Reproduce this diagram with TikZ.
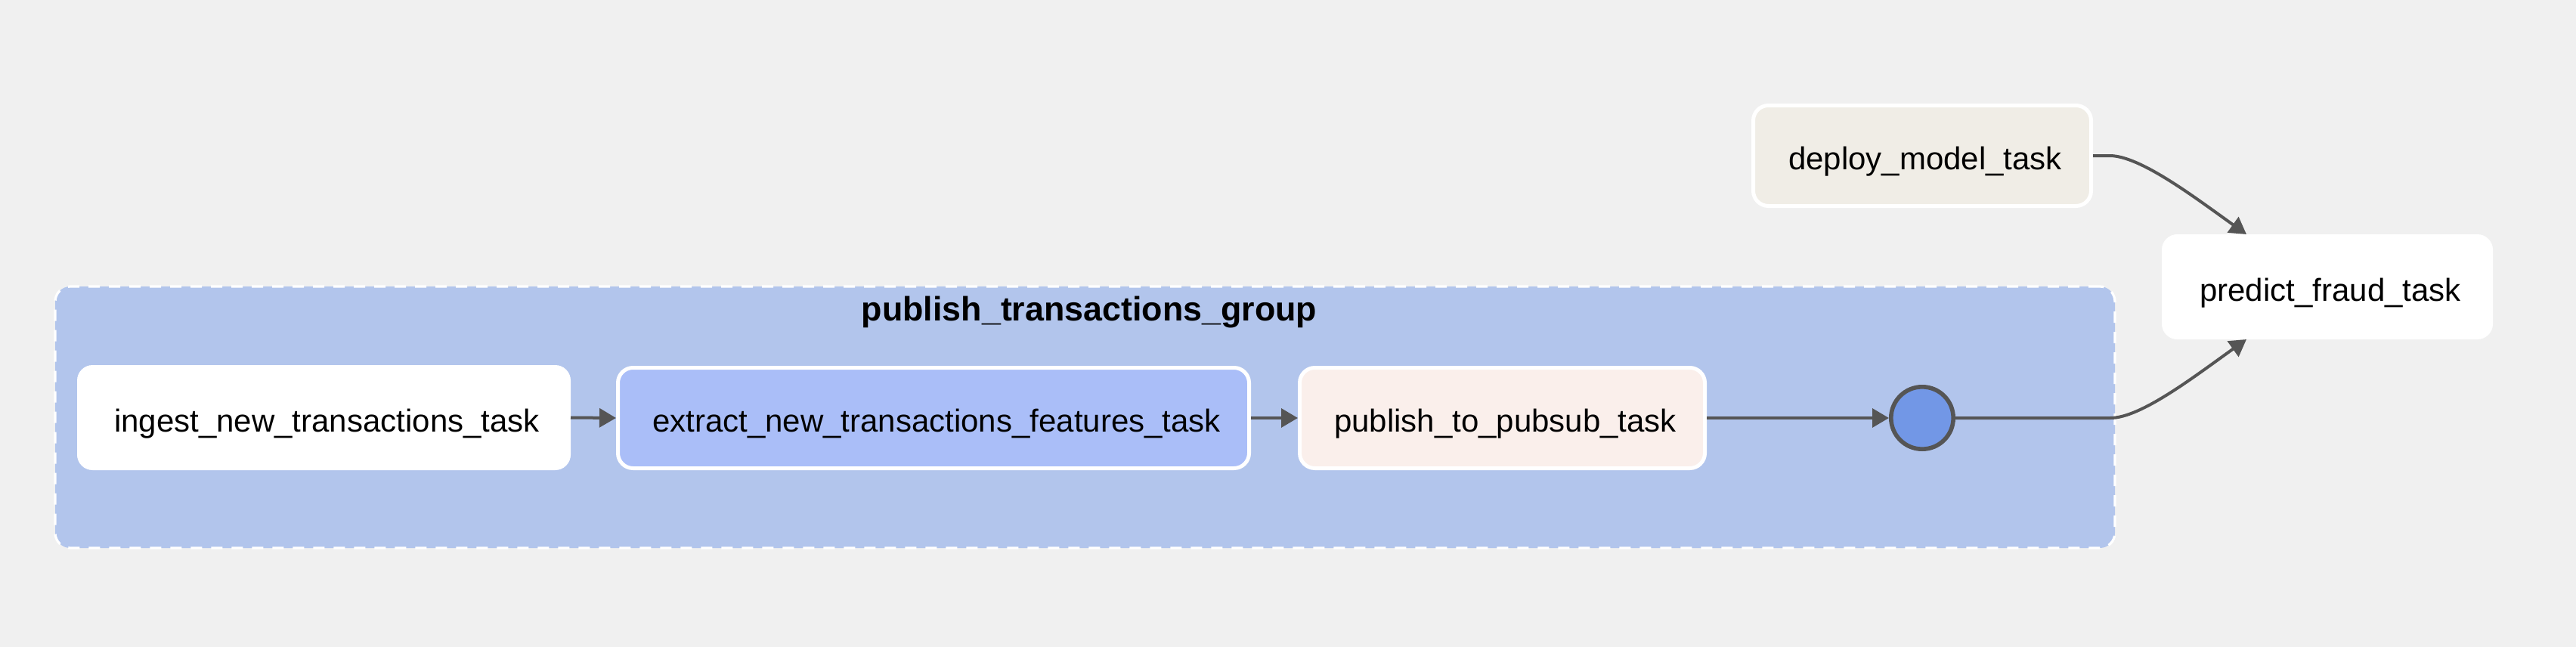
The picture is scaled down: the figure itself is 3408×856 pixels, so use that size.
\documentclass[tikz,border=0pt]{standalone}
\usepackage{fontspec}
\setmainfont{Liberation Sans}
\usetikzlibrary{arrows.meta,calc}
\definecolor{bg}{HTML}{F0F0F0}
\definecolor{groupfill}{HTML}{B2C5EC}
\definecolor{extractfill}{HTML}{AABEF8}
\definecolor{publishfill}{HTML}{FAEFEB}
\definecolor{deployfill}{HTML}{F0EDE6}
\definecolor{joinfill}{HTML}{7297E6}
\definecolor{edgecol}{HTML}{555555}
\begin{document}
\begin{tikzpicture}[x=0.25pt,y=-0.25pt,
  task/.style={rectangle, rounded corners=5pt, inner sep=0pt, font=\fontsize{10.5pt}{12pt}\selectfont, text=black, minimum height=33.25pt, text height=11.6pt, text depth=2.2pt, execute at begin node={\hspace*{2pt}}},
  wborder/.style={draw=white, line width=1.25pt},
  groupbox/.style={rectangle, rounded corners=5pt, fill=groupfill, draw=white, line width=0.8pt, dash pattern=on 3.75pt off 3pt, inner sep=0pt},
  joinnode/.style={circle, fill=joinfill, draw=edgecol, line width=1.4pt, minimum size=20.6pt, inner sep=0pt},
  edge/.style={draw=edgecol, line width=1pt, -{Triangle[length=5.5pt,width=6.2pt]}}
]
\fill[bg] (0,0) rectangle (3408,856);
\useasboundingbox (0,0) rectangle (3408,856);

\node[groupbox, minimum width=681.25pt, minimum height=86.5pt] (group) at (1435.5,552) {};
\node[font=\bfseries\fontsize{11.2pt}{13pt}\selectfont] (grouplabel) at (1441,413) {publish\_transactions\_group};

\node[task, fill=white, draw=white, line width=0.25pt, minimum width=163pt, minimum height=34.5pt] (ingest) at (428.5,552.5) {ingest\_new\_transactions\_task};
\node[task, wborder, fill=extractfill, minimum width=208.75pt] (extract) at (1235,553) {extract\_new\_transactions\_features\_task};
\node[task, wborder, fill=publishfill, minimum width=134pt] (publish) at (1987.5,553) {publish\_to\_pubsub\_task};
\node[joinnode] (join) at (2543,553) {};
\node[task, wborder, fill=deployfill, minimum width=111.75pt] (deploy) at (2543,206) {deploy\_model\_task};
\node[task, fill=white, draw=white, line width=0.25pt, minimum width=109.25pt, minimum height=34.5pt] (predict) at (3079,379.5) {predict\_fraud\_task};

\draw[edge] (ingest.east) -- (extract.west);
\draw[edge] (extract.east) -- (publish.west);
\draw[edge] (publish.east) -- (join.west);
\draw[edge] (deploy.east) -- ++(22,0) .. controls +(40,0) and +(-70,-50) .. ([xshift=28pt]predict.north west);
\draw[edge] (join.east) -- ++(205,0) .. controls +(40,0) and +(-70,50) .. ([xshift=28pt]predict.south west);
\end{tikzpicture}
\end{document}
